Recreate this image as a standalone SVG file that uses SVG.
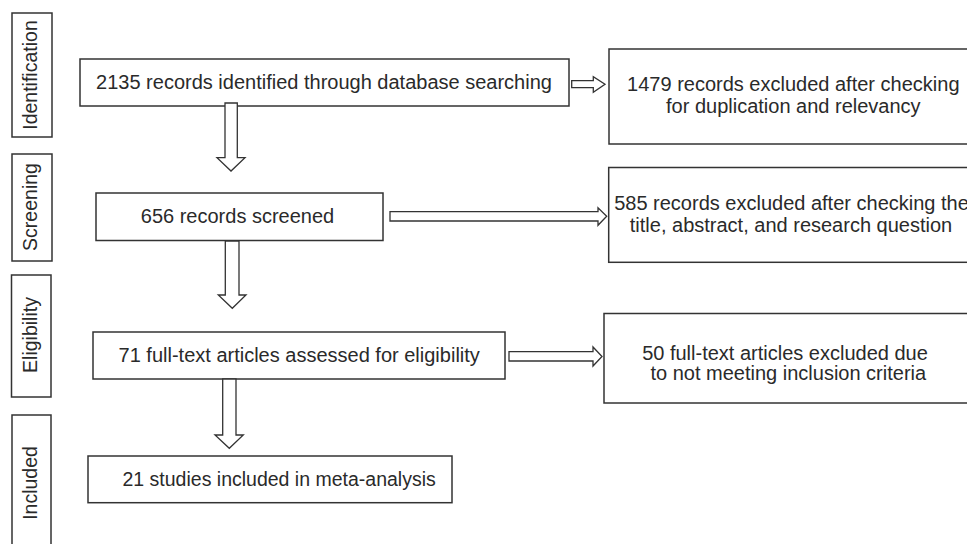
<svg xmlns="http://www.w3.org/2000/svg" width="967" height="544" viewBox="0 0 967 544">
  <style>
    .box { fill: #ffffff; stroke: #333333; stroke-width: 1.5; }
    .arrow { fill: #ffffff; stroke: #333333; stroke-width: 1.3; stroke-linejoin: miter; }
    .label { font-family: "Liberation Sans", Arial, sans-serif; font-size: 20px; fill: #2a2a2a; }
    .stage { font-family: "Liberation Sans", Arial, sans-serif; font-size: 19.5px; fill: #2a2a2a; text-anchor: middle; }
    .mid { text-anchor: middle; }
  </style>
  <rect width="967" height="544" fill="#ffffff"/>

  <!-- stage labels down the left margin -->
  <g id="stage-identification">
    <rect class="box" x="12" y="13" width="40" height="124"/>
    <text class="stage" transform="translate(37,75) rotate(-90)">Identification</text>
  </g>
  <g id="stage-screening">
    <rect class="box" x="12" y="154" width="40" height="107"/>
    <text class="stage" transform="translate(37,207) rotate(-90)">Screening</text>
  </g>
  <g id="stage-eligibility">
    <rect class="box" x="11.5" y="275" width="39.5" height="122"/>
    <text class="stage" transform="translate(36.5,335) rotate(-90)">Eligibility</text>
  </g>
  <g id="stage-included">
    <rect class="box" x="12" y="415" width="39" height="145"/>
    <text class="stage" transform="translate(36.5,483) rotate(-90)">Included</text>
  </g>

  <!-- main flow boxes -->
  <g id="identified">
    <rect class="box" x="80" y="59" width="489" height="47"/>
    <text class="label mid" x="324" y="88.5">2135 records identified through database searching</text>
  </g>
  <g id="excluded-duplicates">
    <rect class="box" x="609" y="49" width="380" height="95"/>
    <text class="label mid" x="793.3" y="90.5">1479 records excluded after checking</text>
    <text class="label mid" x="793.3" y="112.5">for duplication and relevancy</text>
  </g>
  <g id="screened">
    <rect class="box" x="96" y="193" width="287" height="47.5"/>
    <text class="label mid" x="237.5" y="222.5">656 records screened</text>
  </g>
  <g id="excluded-screening">
    <rect class="box" x="608.7" y="167.5" width="380" height="94.8"/>
    <text class="label mid" x="791.5" y="210">585 records excluded after checking the</text>
    <text class="label mid" x="791" y="232">title, abstract, and research question</text>
  </g>
  <g id="eligibility">
    <rect class="box" x="93" y="332" width="412" height="47"/>
    <text class="label mid" x="299.2" y="361.5">71 full-text articles assessed for eligibility</text>
  </g>
  <g id="excluded-eligibility">
    <rect class="box" x="604" y="313.5" width="380" height="89.5"/>
    <text class="label mid" x="785" y="359.5">50 full-text articles excluded due</text>
    <text class="label mid" x="788.3" y="380">to not meeting inclusion criteria</text>
  </g>
  <g id="included">
    <rect class="box" x="88" y="456" width="364" height="46.7"/>
    <text class="label" x="122.5" y="485.7" style="font-size:19.5px">21 studies included in meta-analysis</text>
  </g>

  <!-- block arrows between boxes -->
  <g id="connectors">
    <polygon class="arrow" points="225,103 237.3,103 237.3,157.7 245,157.7 231,171 217,157.7 225,157.7"/>
    <polygon class="arrow" points="225.3,241 239,241 239,295 246,295 232.3,308.3 218.3,295 225.3,295"/>
    <polygon class="arrow" points="222.7,379 236,379 236,435 243.3,435 229.3,448.3 215,435 222.7,435"/>
    <polygon class="arrow" points="571.7,80.7 593.3,80.7 593.3,76.7 605,84.3 593.3,92.3 593.3,87.7 571.7,87.7"/>
    <polygon class="arrow" points="390,211.7 598,211.7 598,207.7 606.7,216.3 598,225.3 598,221 390,221"/>
    <polygon class="arrow" points="509,351.7 593,351.7 593,347 602,356.5 593,366 593,361 509,361"/>
  </g>
</svg>
